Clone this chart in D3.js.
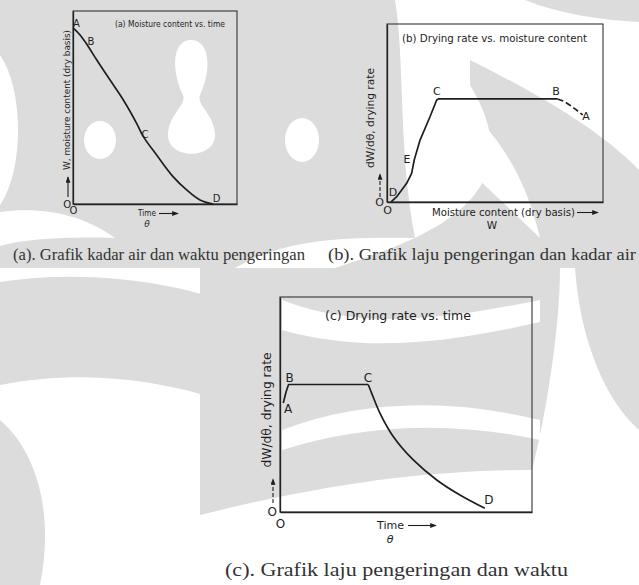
<!DOCTYPE html>
<html>
<head>
<meta charset="utf-8">
<script src="https://cdn.jsdelivr.net/npm/d3@7"></script>
<style>
  html, body { margin: 0; padding: 0; background: #fff; }
  svg { display: block; }
</style>
</head>
<body>
<svg id="chart" width="639" height="585"></svg>
<script>
// ---------- data (arbitrary units 0..10) ----------
// (a) moisture content W vs time
const moistTime = [[0,9.12],[0.43,8.76],[0.87,8.24],[1.45,7.46],[2.26,6.42],[3.07,5.39],
  [3.88,4.18],[4.29,3.49],[5.10,2.54],[6.10,1.42],[6.93,0.73],[7.74,0.21],[8.55,0]];
const moistTimeLabels = [["A",0.21,9.33],["B",1.10,8.40],["C",4.39,3.58],["D",8.75,0.31]];

// (b) drying rate vs moisture content
const rateMoist = [[0.19,0.01],[0.45,0.30],[0.91,1.05],[1.14,1.61],[1.26,2.36],[1.53,3.48],
  [1.99,4.79],[2.30,5.73],[2.38,5.79],[7.90,5.79]];
const rateMoistDashed = [[7.90,5.79],[8.21,5.64],[8.67,5.26],[9.06,4.89]];
const rateMoistLabels = [["C",2.31,6.18],["B",7.82,6.18],["A",9.21,4.78],["E",0.93,2.36],["D",0.28,0.51]];

// (c) drying rate vs time
const rateConst = [[0.13,5.07],[0.24,5.58],[0.34,5.93],[3.50,5.93]];
const rateFalling = [[3.50,5.93],[3.64,5.52],[3.97,4.59],[4.50,3.50],[5.29,2.42],[6.22,1.49],
  [7.14,0.79],[8.13,0.17]];
const rateTimeLabels = [["B",0.38,6.23],["A",0.32,4.79],["C",3.49,6.23],["D",8.29,0.56]];

const titles = ["(a) Moisture content vs. time", "(b) Drying rate vs. moisture content", "(c) Drying rate vs. time"];
const yLabels = ["W, moisture content (dry basis)", "dW/d\u03B8, drying rate", "dW/d\u03B8, drying rate"];
const xLabels = ["Time", "Moisture content (dry basis)", "Time"];
const xSymbols = ["\u03B8", "W", "\u03B8"];
const captions = ["(a). Grafik kadar air dan waktu pengeringan",
  "(b). Grafik laju pengeringan dan kadar air",
  "(c). Grafik laju pengeringan dan waktu"];

const FONT = "'DejaVu Sans', Verdana, sans-serif";
const SERIF = "'Liberation Serif', 'Times New Roman', serif";
const INK = "#1e1e1e";

const svg = d3.select("#chart");

// arrow head
svg.append("defs").append("marker")
  .attr("id", "head")
  .attr("viewBox", "0 0 8 6")
  .attr("refX", 7).attr("refY", 3)
  .attr("markerWidth", 7).attr("markerHeight", 5)
  .attr("markerUnits", "userSpaceOnUse")
  .attr("orient", "auto")
  .append("path").attr("d", "M0,0 L8,3 L0,6 Z").attr("fill", INK);

// ---------- faint background watermark ----------
const wm = svg.append("g").attr("class", "watermark");
const WM_GRAY = "#dcdcdc";
[
  "M0,0 L395,0 C405,60 398,150 415,238 C330,236 280,242 235,268 L0,268 Z",
  "M525,0 L639,0 L639,22 C600,20 560,14 525,0 Z",
  "M470,60 C540,95 600,130 639,170 L639,268 L335,268 C420,240 540,200 470,85 Z",
  "M0,282 C90,268 200,282 282,325 L282,425 C200,385 100,365 0,385 Z",
  "M0,420 C35,450 55,510 40,585 L0,585 Z",
  "M200,268 L560,268 C560,330 545,420 532,470 C440,470 340,480 200,515 Z",
  "M575,268 L639,268 L639,430 C605,400 580,340 575,268 Z"
].forEach(d => wm.append("path").attr("d", d).attr("fill", WM_GRAY));
[
  "M0,55 C24,90 24,170 0,205 Z",
  "M0,212 C45,206 85,216 115,238 C60,236 20,240 0,246 Z",
  "M191,40 C210,40 212,70 200,95 C196,105 215,115 215,135 C215,160 168,160 168,135 C168,115 187,105 183,95 C171,70 172,40 191,40 Z",
  "M420,80 C470,100 520,150 540,238 C500,200 450,150 420,130 Z",
  "M282,300 C360,330 440,320 540,300 L540,322 C440,345 360,352 282,330 Z",
  "M282,430 C360,400 450,398 540,420 L540,440 C450,420 360,425 282,450 Z"
].forEach(d => wm.append("path").attr("d", d).attr("fill", "#fff"));
wm.append("ellipse").attr("cx", 100).attr("cy", 140).attr("rx", 16).attr("ry", 19).attr("fill", "#fff");
wm.append("ellipse").attr("cx", 302).attr("cy", 140).attr("rx", 17).attr("ry", 22).attr("fill", "#fff");

// ---------- one panel ----------
function drawPanel(p) {
  const x = d3.scaleLinear().domain([0, 10]).range([p.x0, p.x1]);
  const y = d3.scaleLinear().domain([0, 10]).range([p.y1, p.y0]);
  const g = svg.append("g").attr("class", "panel");

  // frame
  g.append("rect")
    .attr("x", p.x0).attr("y", p.y0)
    .attr("width", p.x1 - p.x0).attr("height", p.y1 - p.y0)
    .attr("fill", "none").attr("stroke", "#333").attr("stroke-width", 1.1);

  // origin "O" on both axes
  g.append("g")
    .attr("transform", `translate(0,${p.y1})`)
    .call(d3.axisBottom(x).tickValues([0]).tickSize(0).tickPadding(p.padB).tickFormat(() => "O"))
    .call(a => a.select(".domain").attr("stroke", "#222").attr("stroke-width", 1.3))
    .selectAll("text").attr("fill", INK).style("font-family", FONT).style("font-size", p.fs + "px");
  g.append("g")
    .attr("transform", `translate(${p.x0},0)`)
    .call(d3.axisLeft(y).tickValues([0]).tickSize(0).tickPadding(p.padL).tickFormat(() => "O"))
    .call(a => a.select(".domain").attr("stroke", "#222").attr("stroke-width", 1.3))
    .selectAll("text").attr("fill", INK).style("font-family", FONT).style("font-size", p.fs + "px");

  // title
  g.append("text")
    .attr("x", p.title[0]).attr("y", p.title[1])
    .attr("dominant-baseline", "central")
    .attr("textLength", p.title[2]).attr("lengthAdjust", "spacingAndGlyphs")
    .style("font-family", FONT).style("font-size", p.title[3] + "px")
    .attr("fill", INK)
    .text(titles[p.i]);

  // y label (rotated) and up arrow
  g.append("text")
    .attr("transform", `translate(${p.ylab[0]},${p.ylab[1]}) rotate(-90)`)
    .attr("text-anchor", "middle").attr("dominant-baseline", "central")
    .attr("textLength", p.ylab[2]).attr("lengthAdjust", "spacingAndGlyphs")
    .style("font-family", FONT).style("font-size", p.ylab[3] + "px")
    .attr("fill", INK)
    .text(yLabels[p.i]);
  g.append("line")
    .attr("x1", p.up[0]).attr("x2", p.up[0])
    .attr("y1", p.up[1]).attr("y2", p.up[2])
    .attr("stroke", INK).attr("stroke-width", 1.1)
    .attr("stroke-dasharray", p.up[3])
    .attr("marker-end", "url(#head)");

  // x label, arrow and symbol
  g.append("text")
    .attr("x", p.xlab[0]).attr("y", p.xlab[1])
    .attr("dominant-baseline", "central")
    .attr("textLength", p.xlab[2]).attr("lengthAdjust", "spacingAndGlyphs")
    .style("font-family", FONT).style("font-size", p.xlab[3] + "px")
    .attr("fill", INK)
    .text(xLabels[p.i]);
  g.append("line")
    .attr("x1", p.xarr[0]).attr("x2", p.xarr[1])
    .attr("y1", p.xlab[1] + 0.5).attr("y2", p.xlab[1] + 0.5)
    .attr("stroke", INK).attr("stroke-width", 1.1)
    .attr("marker-end", "url(#head)");
  g.append("text")
    .attr("x", p.sym[0]).attr("y", p.sym[1])
    .attr("text-anchor", "middle").attr("dominant-baseline", "central")
    .style("font-family", FONT).style("font-size", p.sym[2] + "px")
    .style("font-style", xSymbols[p.i] === "W" ? "normal" : "italic")
    .attr("fill", INK)
    .text(xSymbols[p.i]);

  // curves
  p.series.forEach(s => {
    const line = d3.line().x(d => x(d[0])).y(d => y(d[1])).curve(s.curve);
    g.append("path")
      .datum(s.data)
      .attr("d", line)
      .attr("fill", "none")
      .attr("stroke", INK)
      .attr("stroke-width", 1.7)
      .attr("stroke-linejoin", "round")
      .attr("stroke-dasharray", s.dash || null);
  });

  // point letters
  g.selectAll(".pt").data(p.labels).enter()
    .append("text")
    .attr("class", "pt")
    .attr("x", d => x(d[1])).attr("y", d => y(d[2]))
    .attr("text-anchor", "middle").attr("dominant-baseline", "central")
    .style("font-family", FONT).style("font-size", p.fs + "px")
    .attr("fill", INK)
    .text(d => d[0]);
}

drawPanel({
  i: 0, x0: 73, x1: 237, y0: 11, y1: 204, fs: 10, padB: 3, padL: 2,
  title: [115, 24, 110, 8.5],
  ylab: [67, 100, 140, 9],
  up: [68, 197, 177, null],
  xlab: [138, 213, 18, 9], xarr: [159, 178],
  sym: [147, 224, 9],
  series: [{ data: moistTime, curve: d3.curveCatmullRom.alpha(0.5) }],
  labels: moistTimeLabels
});

drawPanel({
  i: 1, x0: 387, x1: 603, y0: 24, y1: 202, fs: 11, padB: 4, padL: 3,
  title: [402, 38, 185, 10.5],
  ylab: [370, 118, 100, 10.5],
  up: [380, 197, 174, "4,2"],
  xlab: [432, 212, 143, 10.5], xarr: [577, 598],
  sym: [492, 225, 10.5],
  series: [
    { data: rateMoist, curve: d3.curveLinear },
    { data: rateMoistDashed, curve: d3.curveMonotoneX, dash: "6,3" }
  ],
  labels: rateMoistLabels
});

drawPanel({
  i: 2, x0: 280, x1: 532, y0: 297, y1: 512, fs: 12, padB: 7, padL: 3,
  title: [325, 316, 146, 11.5],
  ylab: [267, 410, 115, 11.5],
  up: [273, 503, 479, "4,2"],
  xlab: [377, 525, 27, 11], xarr: [408, 436],
  sym: [390, 539, 11],
  series: [
    { data: rateConst, curve: d3.curveLinear },
    { data: rateFalling, curve: d3.curveCatmullRom.alpha(0.5) }
  ],
  labels: rateTimeLabels
});

// ---------- captions ----------
const capPos = [[13, 260, 292, 16.5], [328, 260, 308, 16.5], [225, 576, 343, 19]];
svg.selectAll(".caption").data(captions).enter()
  .append("text")
  .attr("class", "caption")
  .attr("x", (d, i) => capPos[i][0]).attr("y", (d, i) => capPos[i][1])
  .attr("textLength", (d, i) => capPos[i][2]).attr("lengthAdjust", "spacingAndGlyphs")
  .style("font-family", SERIF).style("font-size", (d, i) => capPos[i][3] + "px")
  .attr("fill", "#333")
  .text(d => d);
</script>
</body>
</html>
